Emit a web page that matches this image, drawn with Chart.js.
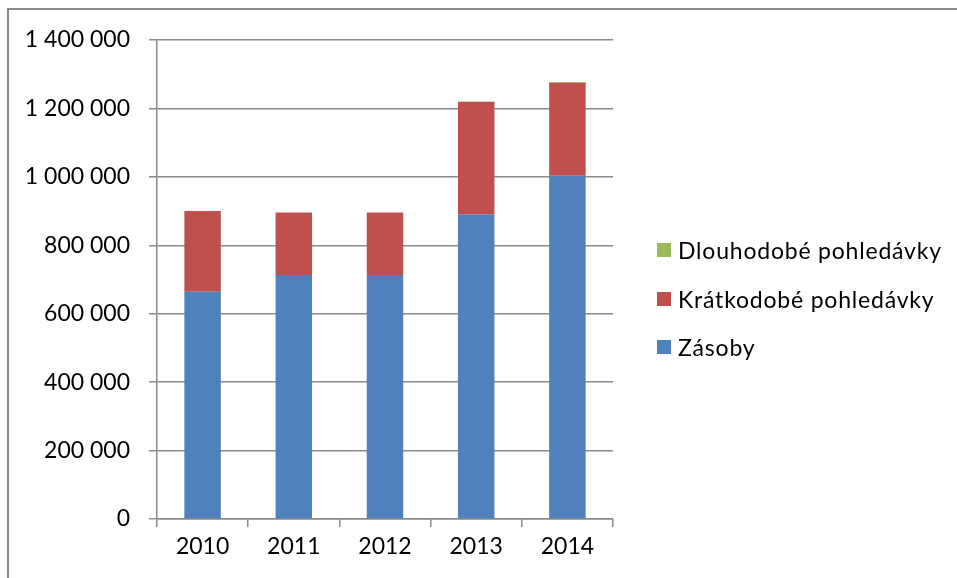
<!DOCTYPE html>
<html>
<head>
<meta charset="utf-8">
<script src="https://cdn.jsdelivr.net/npm/chart.js@4/dist/chart.umd.min.js"></script>
<style>
  html, body { margin: 0; padding: 0; background: #fff; overflow: hidden; }
  #wrap { position: relative; width: 957px; height: 578px; }
  #frame { position: absolute; left: 7px; top: 8px; width: 1000px; height: 1000px;
           border-left: 2px solid #8a8a8a; border-top: 2px solid #8a8a8a; }
  #chart { position: absolute; left: 0; top: 0; }
  #legend { position: absolute; left: 657px; top: 236px; font-family: Lato, sans-serif;
            font-size: 23px; letter-spacing: 0.8px; color: #000; }
  #legend div { display: flex; align-items: center; height: 28px; margin-bottom: 20.5px; }
  #legend span.box { width: 14px; height: 14px; margin-right: 7px; flex: none; }
</style>
</head>
<body>
<div id="wrap">
  <div id="frame"></div>
  <canvas id="chart" width="957" height="578"></canvas>
  <div id="legend"></div>
</div>
<script>
const roky = ['2010', '2011', '2012', '2013', '2014'];
const zasoby = [664000, 713000, 713000, 890000, 1003000];
const kratkodobe = [236000, 183000, 183000, 329000, 272000];
const dlouhodobe = [0, 0, 0, 1000, 2500];
const yTicks = [0, 200000, 400000, 600000, 800000, 1000000, 1200000, 1400000];

const barvy = { zasoby: '#4F81BD', kratkodobe: '#C0504D', dlouhodobe: '#9BBB59' };
const font = { family: 'Lato, sans-serif', size: 23 };

// 1400000 -> "1 400 000"
const formatCislo = (v) => String(v).replace(/\B(?=(\d{3})+(?!\d))/g, ' ');

const chart = new Chart(document.getElementById('chart').getContext('2d'), {
  type: 'bar',
  data: {
    labels: roky,
    datasets: [
      { label: 'Zásoby', data: zasoby, backgroundColor: barvy.zasoby },
      { label: 'Krátkodobé pohledávky', data: kratkodobe, backgroundColor: barvy.kratkodobe },
      { label: 'Dlouhodobé pohledávky', data: dlouhodobe, backgroundColor: barvy.dlouhodobe }
    ]
  },
  options: {
    responsive: false,
    animation: false,
    layout: { padding: { top: 40, right: 344, bottom: 0, left: 0 } },
    datasets: { bar: { categoryPercentage: 1, barPercentage: 0.4, borderWidth: 0 } },
    plugins: { legend: { display: false }, tooltip: { enabled: false } },
    scales: {
      x: {
        stacked: true,
        grid: { drawOnChartArea: false, color: '#8a8a8a', lineWidth: 1.5, tickLength: 8 },
        border: { color: '#8a8a8a', width: 1.5 },
        ticks: { color: '#000', font: font, padding: 6 },
        afterFit: (scale) => { scale.height = 59; }
      },
      y: {
        stacked: true,
        min: 0,
        max: 1400000,
        afterBuildTicks: (scale) => { scale.ticks = yTicks.map(v => ({ value: v })); },
        grid: { color: '#8a8a8a', lineWidth: 1.5, tickLength: 8 },
        border: { color: '#8a8a8a', width: 1.5 },
        ticks: { color: '#000', font: font, padding: 19, callback: (v) => formatCislo(v) },
        afterFit: (scale) => { scale.width = 157; }
      }
    }
  }
});

// legenda vpravo, v obráceném pořadí než skládání sloupců
const legenda = document.getElementById('legend');
chart.data.datasets.slice().reverse().forEach(ds => {
  const row = document.createElement('div');
  const box = document.createElement('span');
  box.className = 'box';
  box.style.background = ds.backgroundColor;
  row.appendChild(box);
  row.appendChild(document.createTextNode(ds.label));
  legenda.appendChild(row);
});
</script>
</body>
</html>
